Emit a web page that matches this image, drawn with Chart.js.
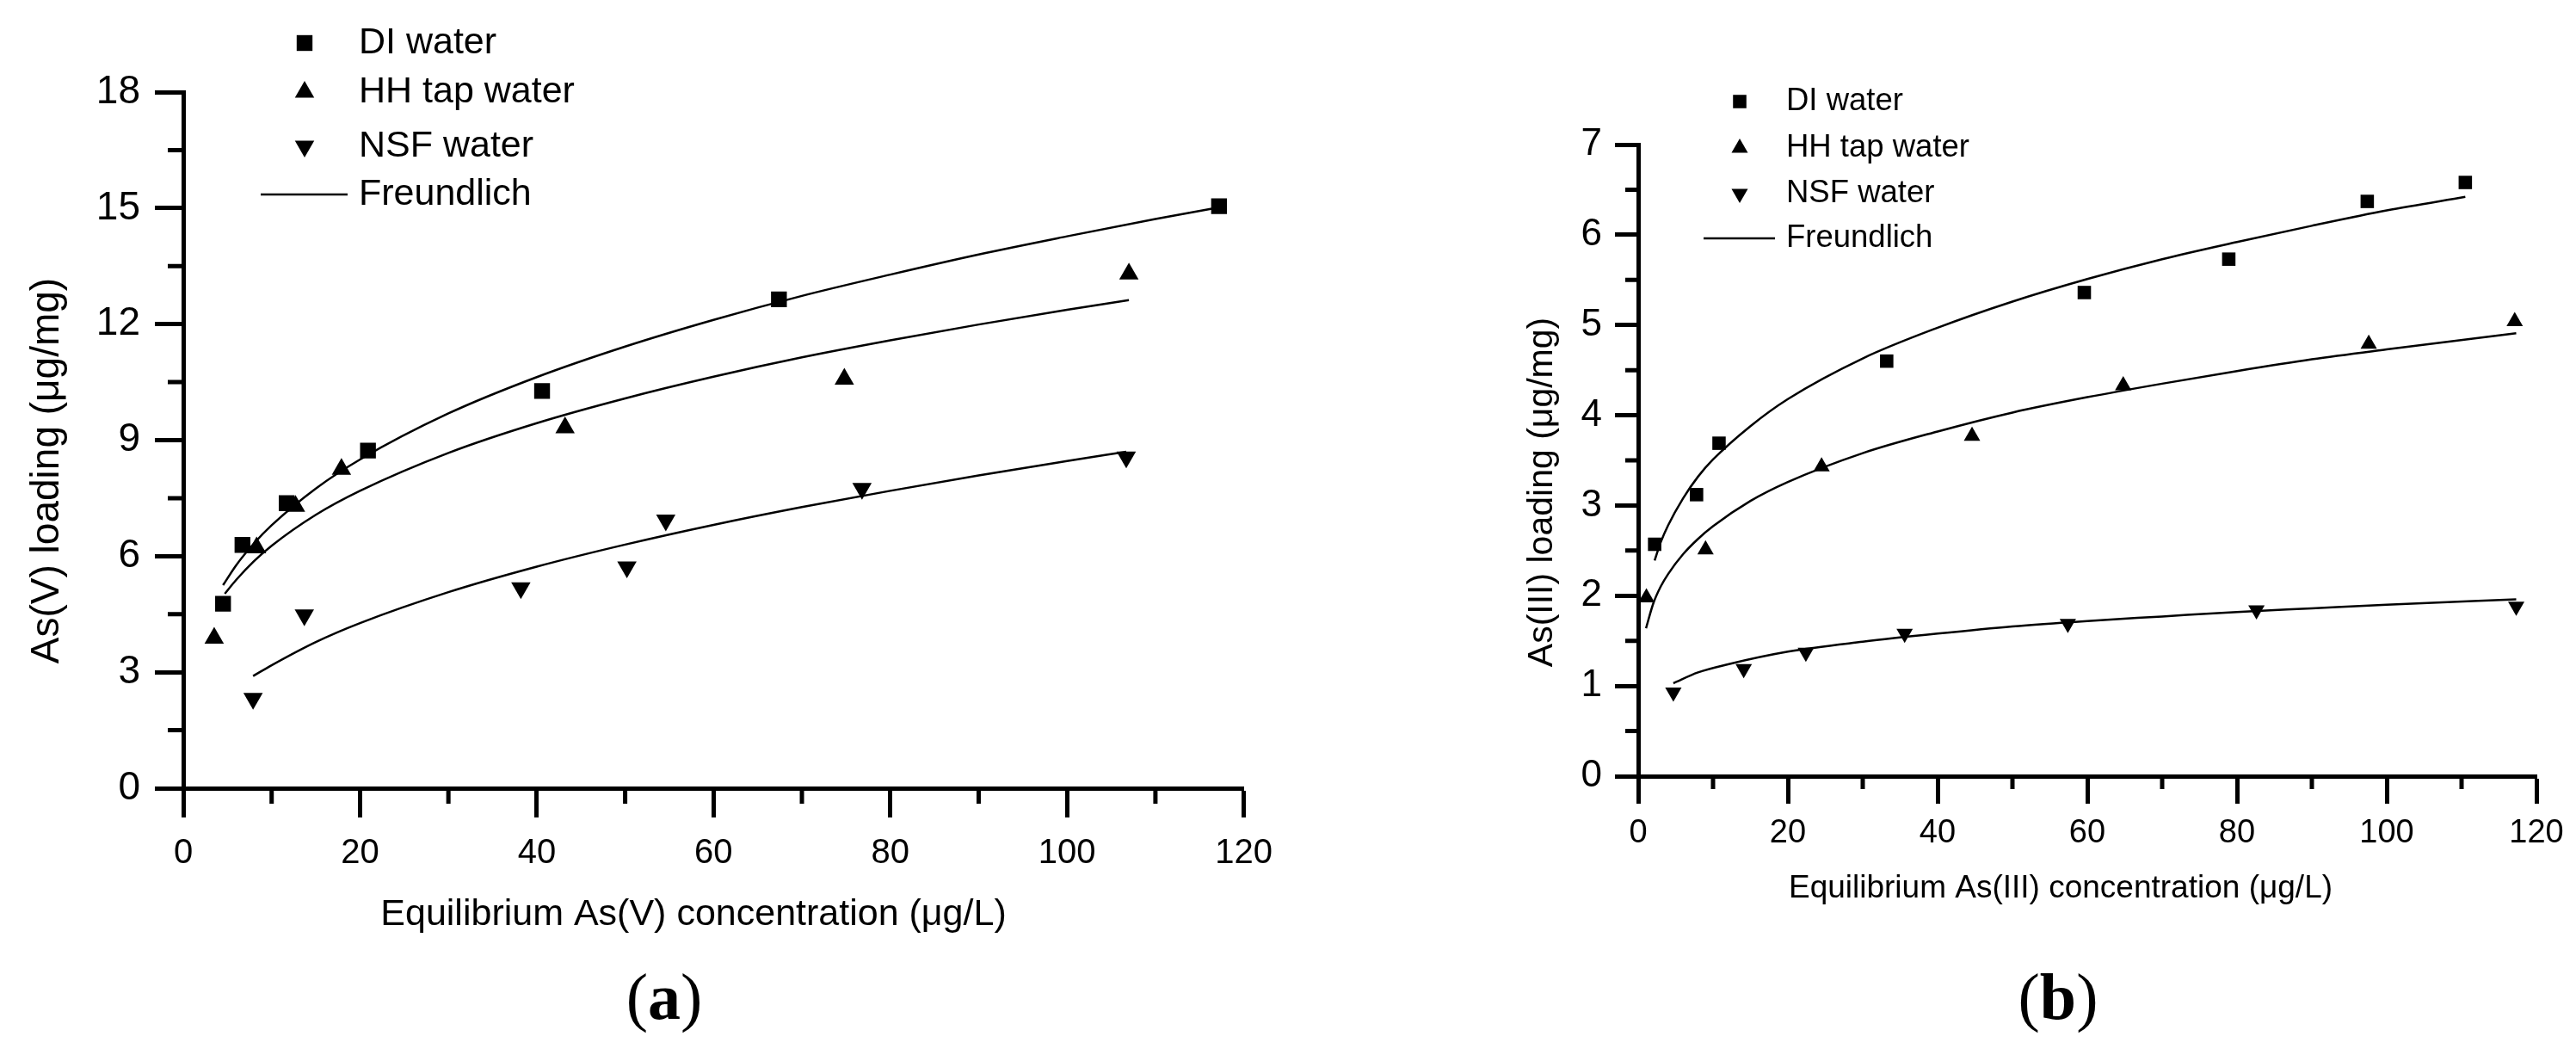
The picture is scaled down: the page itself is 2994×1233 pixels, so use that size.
<!DOCTYPE html>
<html>
<head>
<meta charset="utf-8">
<script src="https://cdn.jsdelivr.net/npm/chart.js@4.4.1/dist/chart.umd.min.js"></script>
<style>
  html, body { margin: 0; padding: 0; background: #fff; overflow: hidden; }
  .panel { position: absolute; top: 0; width: 1497px; height: 1233px; }
  .tag { position: absolute; width: 200px; text-align: center; font-family: "Liberation Serif", "Times New Roman", serif; font-size: 76px; line-height: 100px; color: #000; }
</style>
</head>
<body>
<div class="panel" style="left:0"><canvas id="chartA"></canvas></div>
<div class="panel" style="left:1497px"><canvas id="chartB"></canvas></div>
<div class="tag" style="left:672px; top:1108px">(<b>a</b>)</div>
<div class="tag" style="left:2292px; top:1108px">(<b>b</b>)</div>
<script>
// (a) As(V) isotherms
let aDiX  = [4.5, 6.7, 11.7, 20.9, 40.6, 67.4, 117.2]
let aDiY  = [4.77, 6.29, 7.37, 8.73, 10.27, 12.64, 15.05]
let aHhX  = [3.5, 8.3, 12.7, 17.9, 43.2, 74.8, 107.0]
let aHhY  = [3.88, 6.22, 7.29, 8.25, 9.32, 10.58, 13.3]
let aNsfX = [7.9, 13.7, 38.2, 50.2, 54.6, 76.8, 106.7]
let aNsfY = [2.32, 4.48, 5.18, 5.72, 6.93, 7.75, 8.56]
// Freundlich curves
let aDiFitX  = [4.5, 6, 8, 10, 15, 20, 30, 40, 50, 60, 70, 80, 90, 100, 110, 117.2]
let aDiFitY  = [5.25, 5.77, 6.33, 6.80, 7.75, 8.50, 9.69, 10.63, 11.42, 12.11, 12.73, 13.28, 13.80, 14.27, 14.72, 15.02]
let aHhFitX  = [4.7, 6, 8, 10, 15, 20, 30, 40, 50, 60, 70, 80, 90, 100, 107]
let aHhFitY  = [5.03, 5.39, 5.87, 6.27, 7.07, 7.69, 8.67, 9.44, 10.08, 10.64, 11.14, 11.58, 11.99, 12.37, 12.62]
let aNsfFitX = [7.9, 10, 15, 20, 30, 40, 50, 60, 70, 80, 90, 100, 106.7]
let aNsfFitY = [2.90, 3.18, 3.78, 4.27, 5.07, 5.73, 6.30, 6.81, 7.27, 7.69, 8.09, 8.46, 8.70]

// (b) As(III) isotherms
let bDiX  = [2.2, 7.8, 10.8, 33.2, 59.6, 78.9, 97.4, 110.5]
let bDiY  = [2.57, 3.12, 3.69, 4.60, 5.36, 5.73, 6.37, 6.58]
let bHhX  = [1.1, 9.0, 24.5, 44.6, 64.8, 97.6, 117.1]
let bHhY  = [1.98, 2.51, 3.43, 3.77, 4.33, 4.79, 5.04]
let bNsfX = [4.7, 14.1, 22.4, 35.6, 57.4, 82.6, 117.3]
let bNsfY = [0.93, 1.19, 1.37, 1.58, 1.69, 1.84, 1.88]
let bDiFitX  = [2.2, 3, 4, 6, 8, 10, 15, 20, 30, 40, 50, 60, 70, 80, 90, 100, 110.5]
let bDiFitY  = [2.39, 2.59, 2.78, 3.08, 3.32, 3.51, 3.88, 4.18, 4.63, 4.97, 5.26, 5.51, 5.73, 5.92, 6.10, 6.27, 6.42]
let bHhFitX  = [1.05, 2, 3, 4, 6, 8, 10, 15, 20, 30, 40, 50, 60, 70, 80, 90, 100, 117.3]
let bHhFitY  = [1.64, 1.91, 2.10, 2.24, 2.46, 2.63, 2.77, 3.05, 3.26, 3.58, 3.82, 4.03, 4.20, 4.35, 4.49, 4.62, 4.73, 4.91]
let bNsfFitX = [4.7, 8, 12, 20, 30, 40, 50, 60, 70, 80, 90, 100, 117.3]
let bNsfFitY = [1.03, 1.15, 1.24, 1.38, 1.49, 1.58, 1.66, 1.72, 1.77, 1.82, 1.86, 1.90, 1.96]

let legendNames = ["DI water", "HH tap water", "NSF water", "Freundlich"]

// minor tick positions
let aMinorX = [10, 30, 50, 70, 90, 110]
let aMinorY = [1.5, 4.5, 7.5, 10.5, 13.5, 16.5]
let bMinorX = [10, 30, 50, 70, 90, 110]
let bMinorY = [0.5, 1.5, 2.5, 3.5, 4.5, 5.5, 6.5]

const FONT = '"Liberation Sans", Arial, sans-serif'

function pts(xs, ys) {
  let out = []
  for (let i = 0; i < xs.length; i++) out.push({x: xs[i], y: ys[i]})
  return out
}

function marks(xs, ys, style, rot, r) {
  return {
    data: pts(xs, ys), showLine: false,
    pointStyle: style, rotation: rot, pointRadius: r, pointHoverRadius: r,
    pointBackgroundColor: '#000', pointBorderColor: '#000', pointBorderWidth: 0
  }
}

function curve(xs, ys) {
  return {
    data: pts(xs, ys), showLine: true, pointRadius: 0, pointHoverRadius: 0,
    borderColor: '#000', borderWidth: 2.5, cubicInterpolationMode: 'monotone', fill: false
  }
}

// draw one marker the same way Chart.js does
function marker(ctx, shape, x, y, r) {
  ctx.beginPath()
  if (shape == 'rect') {
    let s = Math.SQRT1_2 * r
    ctx.rect(x - s, y - s, 2 * s, 2 * s)
  } else {
    let d = shape == 'down' ? -1 : 1
    let w = r * Math.sin(Math.PI / 3)
    ctx.moveTo(x, y - d * r)
    ctx.lineTo(x + w, y + d * r / 2)
    ctx.lineTo(x - w, y + d * r / 2)
    ctx.closePath()
  }
  ctx.fill()
}

const extras = {
  id: 'extras',
  afterDraw(chart, args, o) {
    const ctx = chart.ctx
    const xs = chart.scales.x, ys = chart.scales.y
    ctx.save()
    ctx.strokeStyle = '#000'
    ctx.fillStyle = '#000'
    // minor ticks
    ctx.lineWidth = o.tickWidth
    ctx.beginPath()
    o.minorX.forEach(v => {
      let px = xs.getPixelForValue(v)
      ctx.moveTo(px, xs.top)
      ctx.lineTo(px, xs.top + o.minorLen)
    })
    o.minorY.forEach(v => {
      let py = ys.getPixelForValue(v)
      ctx.moveTo(ys.right, py)
      ctx.lineTo(ys.right - o.minorLen, py)
    })
    ctx.stroke()
    // axis titles
    ctx.textAlign = 'center'
    ctx.textBaseline = 'middle'
    o.titles.forEach(t => {
      ctx.save()
      ctx.font = t.size + 'px ' + FONT
      ctx.translate(t.x, t.y)
      if (t.rot) ctx.rotate(-Math.PI / 2)
      ctx.fillText(t.text, 0, 0)
      ctx.restore()
    })
    // legend
    ctx.textAlign = 'left'
    ctx.font = o.legendSize + 'px ' + FONT
    let shapes = ['rect', 'up', 'down', 'line']
    legendNames.forEach((name, i) => {
      let y = o.rows[i]
      if (shapes[i] == 'line') {
        ctx.lineWidth = 2.5
        ctx.beginPath()
        ctx.moveTo(o.lineX[0], y)
        ctx.lineTo(o.lineX[1], y)
        ctx.stroke()
      } else {
        marker(ctx, shapes[i], o.markX, y, o.r)
      }
      ctx.fillText(name, o.textX, y)
    })
    ctx.restore()
  }
}

function makeChart(id, cfg) {
  return new Chart(document.getElementById(id).getContext('2d'), {
    type: 'scatter',
    data: {
      datasets: [
        marks(cfg.di[0], cfg.di[1], 'rect', 0, cfg.r),
        marks(cfg.hh[0], cfg.hh[1], 'triangle', 0, cfg.r),
        marks(cfg.nsf[0], cfg.nsf[1], 'triangle', 180, cfg.r),
        curve(cfg.diFit[0], cfg.diFit[1]),
        curve(cfg.hhFit[0], cfg.hhFit[1]),
        curve(cfg.nsfFit[0], cfg.nsfFit[1])
      ]
    },
    plugins: [extras],
    options: {
      responsive: true,
      maintainAspectRatio: false,
      animation: false,
      events: [],
      layout: { padding: cfg.pad },
      plugins: {
        legend: { display: false },
        tooltip: { enabled: false },
        extras: cfg.extras
      },
      scales: {
        x: {
          type: 'linear', min: 0, max: 120,
          afterFit: s => { s.height = cfg.xHeight },
          border: { display: true, color: '#000', width: 5 },
          grid: { drawOnChartArea: false, drawTicks: true, tickLength: cfg.xTick, tickWidth: 5, tickColor: '#000' },
          ticks: { stepSize: 20, color: '#000', padding: cfg.xTickPad, maxRotation: 0, font: { family: FONT, size: cfg.xFont } },
          title: { display: false }
        },
        y: {
          type: 'linear', min: 0, max: cfg.yMax,
          afterFit: s => { s.width = cfg.yWidth },
          border: { display: true, color: '#000', width: 5 },
          grid: { drawOnChartArea: false, drawTicks: true, tickLength: cfg.yTick, tickWidth: 5, tickColor: '#000' },
          ticks: { stepSize: cfg.yStep, color: '#000', padding: cfg.yTickPad, font: { family: FONT, size: cfg.yFont } },
          title: { display: false }
        }
      }
    }
  })
}

makeChart('chartA', {
  di: [aDiX, aDiY], hh: [aHhX, aHhY], nsf: [aNsfX, aNsfY],
  diFit: [aDiFitX, aDiFitY], hhFit: [aHhFitX, aHhFitY], nsfFit: [aNsfFitX, aNsfFitY],
  r: 13, yMax: 18, yStep: 3,
  pad: { left: 0, top: 107, right: 36, bottom: 0 },
  xHeight: 317, yWidth: 213,
  xTick: 34, yTick: 33, xTickPad: 18, yTickPad: 17,
  xFont: 40, yFont: 46,
  extras: {
    minorX: aMinorX, minorY: aMinorY, minorLen: 18, tickWidth: 5,
    titles: [
      { text: 'Equilibrium As(V) concentration (\u03BCg/L)', x: 806, y: 1063, size: 43 },
      { text: 'As(V) loading (\u03BCg/mg)', x: 55, y: 547, size: 46, rot: true }
    ],
    legendSize: 43, rows: [50, 107, 170, 226], markX: 354, textX: 417, lineX: [303, 404], r: 13
  }
})

makeChart('chartB', {
  di: [bDiX, bDiY], hh: [bHhX, bHhY], nsf: [bNsfX, bNsfY],
  diFit: [bDiFitX, bDiFitY], hhFit: [bHhFitX, bHhFitY], nsfFit: [bNsfFitX, bNsfFitY],
  r: 11, yMax: 7, yStep: 1,
  pad: { left: 250, top: 168, right: 46, bottom: 0 },
  xHeight: 331, yWidth: 157,
  xTick: 32, yTick: 27, xTickPad: 12, yTickPad: 15,
  xFont: 38, yFont: 44,
  extras: {
    minorX: bMinorX, minorY: bMinorY, minorLen: 15, tickWidth: 5,
    titles: [
      { text: 'Equilibrium As(III) concentration (\u03BCg/L)', x: 898, y: 1033, size: 37 },
      { text: 'As(III) loading (\u03BCg/mg)', x: 296, y: 572, size: 41, rot: true }
    ],
    legendSize: 36.5, rows: [118, 172, 225, 277], markX: 525, textX: 579, lineX: [483, 566], r: 11
  }
})
</script>
</body>
</html>
